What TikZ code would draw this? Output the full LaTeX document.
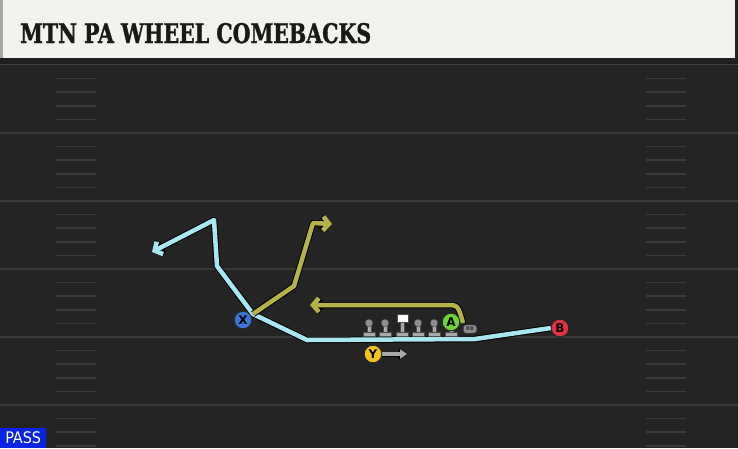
\documentclass[tikz,border=0pt]{standalone}
\usepackage{fontspec}
\setmainfont{DejaVu Sans}
\newfontfamily\titlefont{DejaVu Serif}[FakeStretch=0.76, BoldFeatures={FakeBold=1.2}]
\newfontfamily\labfont{DejaVu Sans}
\newfontfamily\passfont{DejaVu Sans Condensed}
\usetikzlibrary{arrows.meta}
\pgfdeclarelayer{bg}
\pgfdeclarelayer{routes}
\pgfsetlayers{bg,routes,main}
\definecolor{fieldc}{HTML}{242424}
\definecolor{linec}{HTML}{3A3A3A}
\definecolor{titlec}{HTML}{F4F2EC}
\definecolor{routeblue}{HTML}{A8E6F2}
\definecolor{routeolive}{HTML}{B3B34A}
\definecolor{xblue}{HTML}{3D74D9}
\definecolor{bred}{HTML}{E2323F}
\definecolor{agreen}{HTML}{6DD43A}
\definecolor{yyellow}{HTML}{F2C421}
\definecolor{olgray}{HTML}{A8A8A8}
\definecolor{olhead}{HTML}{8E8E8E}
\definecolor{passblue}{HTML}{0A24E6}
\tikzset{
  player/.style={circle, draw=black!85, line width=0.8pt, minimum size=17.5pt, inner sep=0pt,
    font=\labfont\bfseries\fontsize{12}{12}\selectfont, text=black},
  route/.style={line width=4.5pt, line join=round,
    preaction={draw=black, line width=6.5pt, line join=round}},
  blueroute/.style={route, draw=routeblue},
  oliveroute/.style={route, draw=routeolive},
  barb/.style={-{Straight Barb[length=6pt,width=14pt]}},
  yard/.style={draw=linec, line width=2pt},
  hashm/.style={draw=linec, line width=1.6pt},
  pics/lineman/.style={code={
    \fill[olgray, draw=black!70, line width=0.4pt] (-1.8,2) rectangle (1.8,9);
    \fill[olgray, draw=black!70, line width=0.4pt] (-6,9) rectangle (6,13);
    \fill[olhead, draw=black!70, line width=0.4pt] (0,0) circle (3.8);
  }}
}
\begin{document}
\begin{tikzpicture}[x=1pt,y=-1pt]
\useasboundingbox (0,0) rectangle (738,448);
\begin{pgfonlayer}{bg}
\fill[fieldc] (0,0) rectangle (738,448);
\fill[black!88] (0,58) rectangle (738,64);
\draw[line width=1pt, black!75] (0,64.5) -- (738,64.5);
\fill[titlec] (3,0) rectangle (735,58);
\fill[black!35] (0,0) rectangle (3,58);
\foreach \k in {0,...,5}{
  \pgfmathsetmacro{\yy}{65+68*\k}
  \ifnum\k>0 \draw[yard] (0,\yy) -- (738,\yy); \fi
  \foreach \j in {1,...,4}{
    \pgfmathsetmacro{\hy}{\yy+13.6*\j}
    \draw[hashm] (56,\hy) -- (96,\hy);
    \draw[hashm] (646,\hy) -- (686,\hy);
  }
}
\end{pgfonlayer}
\node[anchor=base west, inner sep=0pt, font=\titlefont\bfseries\fontsize{27}{27}\selectfont, text=black!90] (title) at (20,43) {MTN PA WHEEL COMEBACKS};
% players
\node[player, fill=xblue] (X) at (243,320) {X};
\node[player, fill=bred] (B) at (560,328) {B};
\node[player, fill=yyellow] (Y) at (373,354) {Y};
% line
\pic at (369,323) {lineman};
\pic at (385,323) {lineman};
\pic at (418,323) {lineman};
\pic at (434,323) {lineman};
\fill[olgray, draw=black!70, line width=0.4pt] (451-1.8,325) rectangle (451+1.8,332);
\fill[olgray, draw=black!70, line width=0.4pt] (445,332) rectangle (457,336);
\fill[olgray, draw=black!70, line width=0.4pt] (400.2,322) rectangle (403.8,332);
\fill[olgray, draw=black!70, line width=0.4pt] (396,332) rectangle (408,336);
\node[draw=black!70, fill=white, line width=0.4pt, minimum width=11pt, minimum height=8pt, inner sep=0pt] (C) at (402.5,318) {};
\node[draw=black!70, fill=black!45, rounded corners=2.5pt, line width=0.4pt, minimum width=13pt, minimum height=8pt, inner sep=0pt, font=\labfont\bfseries\fontsize{5}{5}\selectfont, text=black!80] (RB) at (470,329) {RB};
\node[player, fill=agreen] (A) at (451,322) {A};
% route points
\coordinate (b1) at (475,339);
\coordinate (b2) at (307,340);
\coordinate (xr) at (253,314);
\coordinate (b3) at (217,266);
\coordinate (b4) at (214,220);
\coordinate (b5) at (152,252);
\coordinate (o1) at (294,286);
\coordinate (o2) at (313,223);
\coordinate (o3) at (332,224);
\coordinate (a0) at (463,323);
\coordinate (a1) at (446,305);
\coordinate (a2) at (310,305);
\coordinate (ym) at (407,354);
\begin{pgfonlayer}{routes}
\draw[blueroute, barb] (B.west) -- (b1) -- (b2) -- (xr) -- (b3) -- (b4) -- (b5);
\draw[oliveroute, barb] (xr) -- (o1) -- (o2) -- (o3);
\draw[oliveroute, barb] (a0) .. controls (458,305) .. (a1) -- (a2);
\draw[line width=3.5pt, draw=olgray, -{Triangle[length=7pt,width=9pt]},
  preaction={draw=black, line width=5pt, -{Triangle[length=8.5pt,width=11pt]}}] (Y.east) -- (ym);
\end{pgfonlayer}
% pass tag
\node[fill=passblue, anchor=south west, minimum width=46pt, minimum height=20pt, inner sep=0pt,
  font=\passfont\fontsize{16}{16}\selectfont, text=white] (pass) at (0,448) {PASS};
\end{tikzpicture}
\end{document}
